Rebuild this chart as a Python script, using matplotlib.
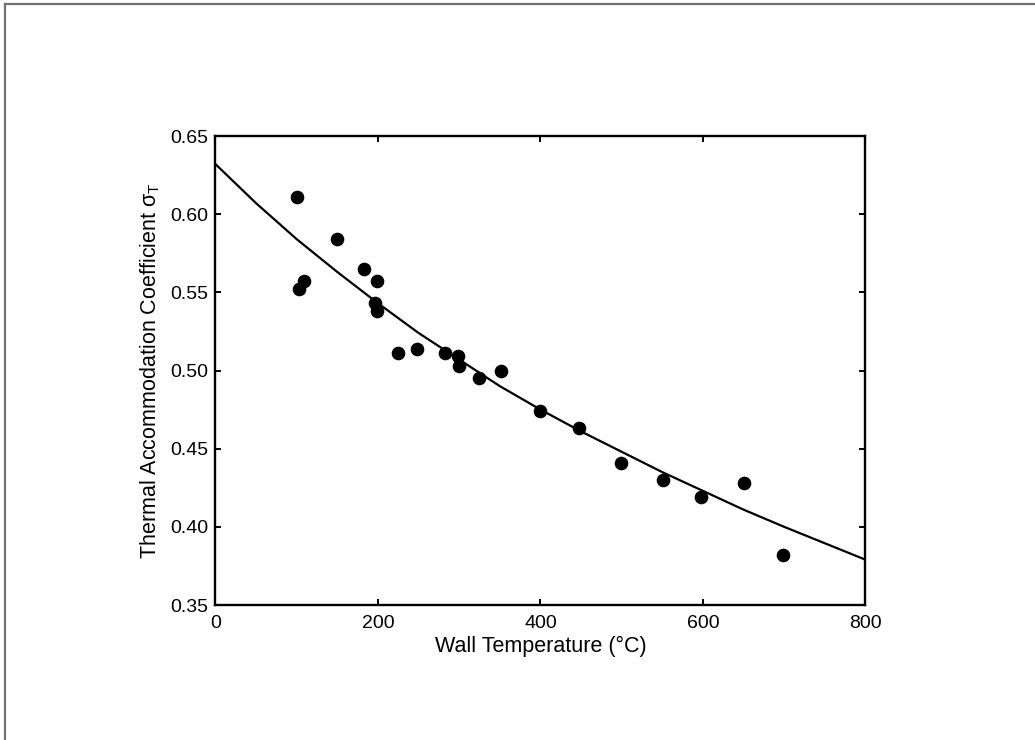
import numpy as np
import matplotlib
matplotlib.use("Agg")
import matplotlib.pyplot as plt
from matplotlib.lines import Line2D

# measured accommodation coefficients
wall_temp = [100, 103, 109, 149, 183, 196, 199, 199, 225, 248,
             283, 298, 300, 324, 352, 399, 447, 499, 551, 598, 650, 699]
sigma_t = [0.611, 0.552, 0.557, 0.584, 0.565, 0.543, 0.557, 0.538, 0.511, 0.514,
           0.511, 0.509, 0.503, 0.495, 0.500, 0.474, 0.463, 0.441, 0.430, 0.419, 0.428, 0.382]

# fitted curve
fit_temp = [0, 50, 100, 150, 200, 250, 300, 350, 400,
            450, 500, 550, 600, 650, 700, 750, 800]
fit_sigma = [0.632, 0.607, 0.584, 0.563, 0.543, 0.524, 0.507, 0.490, 0.475,
             0.461, 0.448, 0.435, 0.423, 0.411, 0.400, 0.3895, 0.379]

x_ticks = [0, 200, 400, 600, 800]
y_ticks = [0.35, 0.40, 0.45, 0.50, 0.55, 0.60, 0.65]

plt.rcParams["font.family"] = ["Liberation Sans", "DejaVu Sans"]
plt.rcParams["mathtext.fontset"] = "custom"
plt.rcParams["mathtext.rm"] = "Liberation Sans"

fig = plt.figure(figsize=(10.35, 7.4), dpi=100)
ax = fig.add_axes([0.2082, 0.1824, 0.6280, 0.6338])

ax.plot(fit_temp, fit_sigma, color="black", lw=1.6, zorder=2)
ax.plot(wall_temp, sigma_t, "o", color="black", ms=8.8, mec="black", zorder=3)

ax.set_xlim(0, 800)
ax.set_ylim(0.35, 0.65)
ax.set_xticks(x_ticks)
ax.set_yticks(y_ticks)
ax.set_xticklabels([str(v) for v in x_ticks])
ax.set_yticklabels([f"{v:.2f}" for v in y_ticks])
ax.tick_params(direction="in", length=4.5, width=1.4, labelsize=14,
               top=True, right=True, color="black")
ax.tick_params(axis="x", pad=7.5)
ax.tick_params(axis="y", pad=5)
for sp in ax.spines.values():
    sp.set_linewidth(1.7)

ax.set_xlabel("Wall Temperature (°C)", fontsize=15.5, labelpad=2.5)
ax.set_ylabel(r"Thermal Accommodation Coefficient σ$_\mathrm{T}$", fontsize=15.5, labelpad=6)

# grey frame lines along top and left edges
fig.add_artist(Line2D([0.0048, 1.0], [0.9946, 0.9946], transform=fig.transFigure,
                      color="#707070", lw=1.6))
fig.add_artist(Line2D([0.0048, 0.0048], [0.0, 0.9946], transform=fig.transFigure,
                      color="#707070", lw=1.6))

fig.savefig("out.png", dpi=100)
